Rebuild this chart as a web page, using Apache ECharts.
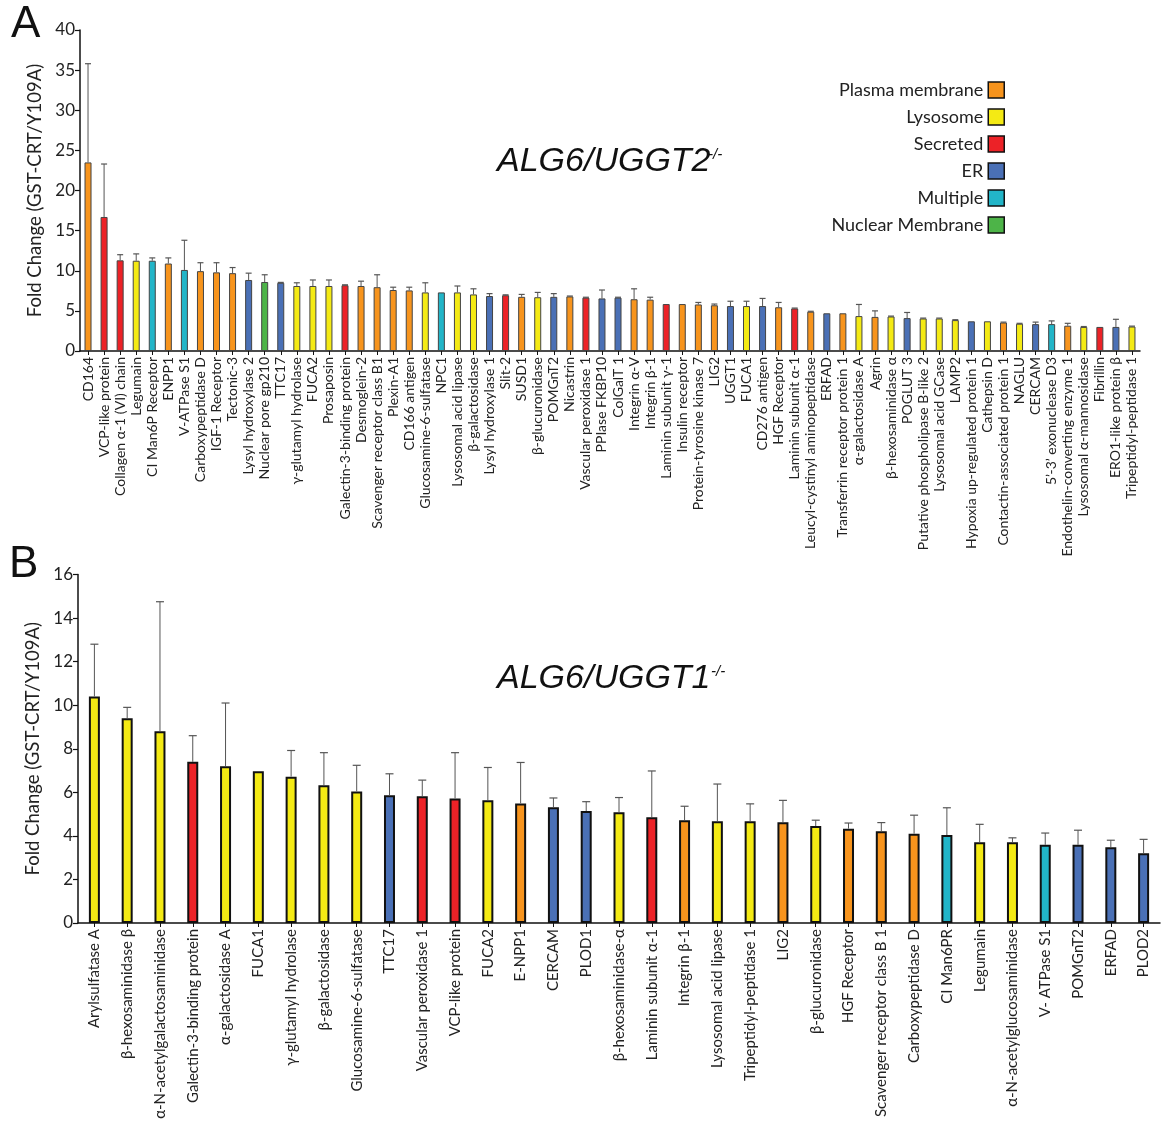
<!DOCTYPE html>
<html><head><meta charset="utf-8">
<script src="https://cdn.jsdelivr.net/npm/echarts@6/dist/echarts.min.js"></script>
<style>html,body{margin:0;padding:0;background:#fff}#c{width:1162px;height:1124px}</style>
</head><body><div id="c"></div>
<script>
// ---------- Panel A data (ALG6/UGGT2-/-) ----------
const catsA = ["CD164","VCP-like protein","Collagen α-1 (VI) chain","Legumain","CI Man6P Receptor","ENPP1","V-ATPase S1","Carboxypeptidase D","IGF-1 Receptor","Tectonic-3","Lysyl hydroxylase 2","Nuclear pore gp210","TTC17","γ-glutamyl hydrolase","FUCA2","Prosaposin","Galectin-3-binding protein","Desmoglein-2","Scavenger receptor class B1","Plexin-A1","CD166 antigen","Glucosamine-6-sulfatase","NPC1","Lysosomal acid lipase","β-galactosidase","Lysyl hydroxylase 1","Slit-2","SUSD1","β-glucuronidase","POMGnT2","Nicastrin","Vascular peroxidase 1","PPIase FKBP10","ColGalT 1","Integrin α-V","Integrin β-1","Laminin subunit γ-1","Insulin receptor","Protein-tyrosine kinase 7","LIG2","UGGT1","FUCA1","CD276 antigen","HGF Receptor","Laminin subunit α-1","Leucyl-cystinyl aminopeptidase","ERFAD","Transferrin receptor protein 1","α-galactosidase A","Agrin","β-hexosaminidase α","POGLUT 3","Putative phospholipase B-like 2","Lysosomal acid GCase","LAMP2","Hypoxia up-regulated protein 1","Cathepsin D","Contactin-associated protein 1","NAGLU","CERCAM","5’-3’ exonuclease D3","Endothelin-converting enzyme 1","Lysosomal α-mannosidase","Fibrillin","ERO1-like protein β","Tripeptidyl-peptidase 1"];
const locA = ["P","S","S","L","M","P","M","P","P","P","E","N","E","L","L","L","S","P","P","P","P","L","M","L","L","E","S","P","L","E","P","S","E","E","P","P","S","P","P","P","E","L","E","P","S","P","E","P","L","P","L","E","L","L","L","E","L","P","L","E","M","P","L","S","E","L"];
const valA = [23.5,16.7,11.3,11.25,11.25,10.9,10.1,9.95,9.8,9.7,8.85,8.6,8.5,8.1,8.1,8.1,8.2,8.1,7.95,7.6,7.55,7.3,7.3,7.3,7.05,6.85,6.95,6.75,6.7,6.75,6.8,6.65,6.55,6.65,6.45,6.4,5.85,5.85,5.8,5.7,5.6,5.6,5.6,5.45,5.3,4.9,4.7,4.7,4.35,4.25,4.3,4.1,4.05,4.05,3.85,3.7,3.7,3.55,3.4,3.35,3.35,3.15,3.0,3.0,3.0,3.05];
const errA = [12.3,6.6,0.7,0.85,0.35,0.7,3.7,1.05,1.2,0.7,0.85,0.9,0.05,0.4,0.75,0.75,0.05,0.6,1.55,0.35,0.4,1.2,0,0.8,0.7,0.3,0.05,0.3,0.6,0.4,0.05,0.05,1.05,0.05,1.3,0.3,0,0,0.25,0.15,0.6,0.6,0.95,0.6,0.05,0.05,0,0,1.45,0.75,0.05,0.7,0.05,0.05,0.05,0,0,0.05,0.05,0.25,0.4,0.3,0.05,0,0.95,0.05];
const ticksA = [0,5,10,15,20,25,30,35,40];

// ---------- Panel B data (ALG6/UGGT1-/-) ----------
const catsB = ["Arylsulfatase A","β-hexosaminidase β","α-N-acetylgalactosaminidase","Galectin-3-binding protein","α-galactosidase A","FUCA1","γ-glutamyl hydrolase","β-galactosidase","Glucosamine-6-sulfatase","TTC17","Vascular peroxidase 1","VCP-like protein","FUCA2","E-NPP1","CERCAM","PLOD1","β-hexosaminidase-α","Laminin subunit α-1","Integrin β-1","Lysosomal acid lipase","Tripeptidyl-peptidase 1","LIG2","β-glucuronidase","HGF Receptor","Scavenger receptor class B 1","Carboxypeptidase D","CI Man6PR","Legumain","α-N-acetylglucosaminidase","V- ATPase S1","POMGnT2","ERFAD","PLOD2"];
const locB = ["L","L","L","S","L","L","L","L","L","E","S","S","L","P","E","E","L","S","P","L","L","P","L","P","P","P","M","L","L","M","E","E","E"];
const valB = [10.4,9.4,8.8,7.4,7.2,6.97,6.72,6.32,6.04,5.87,5.82,5.72,5.64,5.49,5.31,5.14,5.08,4.85,4.72,4.67,4.67,4.62,4.45,4.33,4.21,4.1,4.04,3.71,3.71,3.59,3.59,3.48,3.2];
const errB = [2.4,0.5,5.95,1.2,2.9,0,1.2,1.5,1.2,0.98,0.74,2.1,1.5,1.88,0.43,0.43,0.68,2.13,0.64,1.71,0.8,1.01,0.27,0.26,0.4,0.85,1.25,0.82,0.2,0.54,0.67,0.32,0.64];
const ticksB = [0,2,4,6,8,10,12,14,16];

// ---------- Legend / locations ----------
const locCodes = ["P","L","S","E","M","N"];
const locNames = ["Plasma membrane","Lysosome","Secreted","ER","Multiple","Nuclear Membrane"];
const locColors = ["#F7941D","#F4EA14","#EC2227","#4A70B6","#22B5C8","#4DB448"];

const colorOf = c => locColors[locCodes.indexOf(c)];
const FONT = 'Lato, "Noto Sans", sans-serif';

function errRender(capW, stroke){
  return function(params, api){
    const v = api.value(1), e = api.value(2);
    if (!(e > 0)) return null;
    const p0 = api.coord([api.value(0), v]);
    const p1 = api.coord([api.value(0), v + e]);
    return {type:'group', children:[
      {type:'line', shape:{x1:p0[0],y1:p0[1],x2:p1[0],y2:p1[1]}, style:{stroke:stroke,lineWidth:1}},
      {type:'line', shape:{x1:p1[0]-capW/2,y1:p1[1],x2:p1[0]+capW/2,y2:p1[1]}, style:{stroke:stroke,lineWidth:1.2}}
    ]};
  };
}

const chart = echarts.init(document.getElementById('c'), null, {renderer:'canvas'});

const yAxisCommon = (ticks, idx, gap, fs) => ({
  type:'value', gridIndex:idx, min:ticks[0], max:ticks[ticks.length-1], interval:ticks[1]-ticks[0],
  name:'Fold Change (GST-CRT/Y109A)', nameLocation:'middle', nameGap:gap,
  nameTextStyle:{fontFamily:FONT, fontSize:fs, color:'#222'},
  axisLine:{show:true, lineStyle:{color:'#111', width:1.5}},
  axisTick:{show:true, length:5, lineStyle:{color:'#111', width:1.2}},
  axisLabel:{fontFamily:FONT, fontSize:17, color:'#222', margin:5},
  splitLine:{show:false}
});
const xAxisCommon = (cats, idx, fs) => ({
  type:'category', gridIndex:idx, data:cats,
  axisLine:{lineStyle:{color:'#111', width:1.5}},
  axisTick:{show:true, alignWithLabel:true, length:4, lineStyle:{color:'#111'}},
  axisLabel:{rotate:90, interval:0, fontFamily:FONT, fontSize:fs, color:'#222', margin:6}
});

const legendSeries = locNames.map((n,i)=>({
  name:n, type:'bar', xAxisIndex:0, yAxisIndex:0, stack:'A', data:[],
  itemStyle:{color:locColors[i], borderColor:'#111', borderWidth:1.5}
}));

const TFONT = '"Liberation Sans", Arial, sans-serif';

chart.setOption({
  animation:false,
  backgroundColor:'#fff',
  textStyle:{fontFamily:FONT},
  grid:[
    {left:80, right:22, top:30, height:321},
    {left:78, right:2, top:574.5, height:348.5}
  ],
  xAxis:[xAxisCommon(catsA,0,14), xAxisCommon(catsB,1,15)],
  yAxis:[yAxisCommon(ticksA,0,25,18.5), yAxisCommon(ticksB,1,33,18.5)],
  legend:{
    data:locNames, orient:'vertical', right:152, top:76, align:'right',
    itemWidth:16, itemHeight:16, itemGap:9, icon:'rect', selectedMode:false,
    itemStyle:{borderColor:'#111', borderWidth:1.5},
    textStyle:{fontFamily:FONT, fontSize:18, color:'#222'}
  },
  graphic:[
    {type:'text', left:11, top:3, style:{text:'A', font:'44px ' + TFONT, fill:'#111'}},
    {type:'text', left:9, top:543, style:{text:'B', font:'44px ' + TFONT, fill:'#111'}},
    {type:'text', left:497, top:145, style:{text:'ALG6/UGGT2', font:'italic 34px ' + TFONT, fill:'#111'}},
    {type:'text', left:708, top:147, style:{text:'-/-', font:'italic 15px ' + TFONT, fill:'#111'}},
    {type:'text', left:497, top:662, style:{text:'ALG6/UGGT1', font:'italic 34px ' + TFONT, fill:'#111'}},
    {type:'text', left:711, top:664, style:{text:'-/-', font:'italic 15px ' + TFONT, fill:'#111'}}
  ],
  series:[
    ...legendSeries,
    {type:'bar', name:'A', xAxisIndex:0, yAxisIndex:0, stack:'A', barWidth:7,
     data:valA.map((v,i)=>({value:v, itemStyle:{color:colorOf(locA[i]), borderColor:'#444', borderWidth:1}})),
     z:2},
    {type:'custom', xAxisIndex:0, yAxisIndex:0, renderItem:errRender(6,'#555'),
     encode:{x:0,y:[1,2]}, data:valA.map((v,i)=>[i,v,errA[i]]), z:3},
    {type:'bar', name:'B', xAxisIndex:1, yAxisIndex:1, stack:'B', barWidth:11,
     data:valB.map((v,i)=>({value:v, itemStyle:{color:colorOf(locB[i]), borderColor:'#111', borderWidth:2}})),
     z:2},
    {type:'custom', xAxisIndex:1, yAxisIndex:1, renderItem:errRender(8,'#555'),
     encode:{x:0,y:[1,2]}, data:valB.map((v,i)=>[i,v,errB[i]]), z:3}
  ]
});
</script></body></html>
